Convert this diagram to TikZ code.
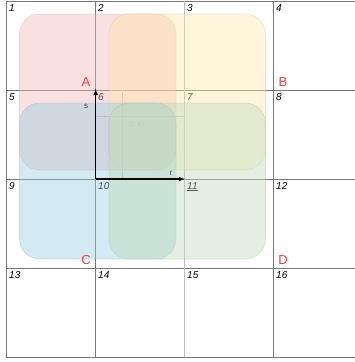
\documentclass[tikz,border=0pt]{standalone}
\usepackage{fontspec}
\setmainfont{Liberation Sans}
\usetikzlibrary{positioning, arrows}

\definecolor{gridgray}{RGB}{120,120,120}
\definecolor{faintgray}{RGB}{190,190,190}
\definecolor{labred}{RGB}{250,60,60}
\definecolor{pinkA}{RGB}{242,183,183}
\definecolor{yellowB}{RGB}{255,230,170}
\definecolor{blueC}{RGB}{150,205,225}
\definecolor{greenD}{RGB}{190,218,183}

\tikzset{
  cellnum/.style={anchor=north west, inner sep=0pt, font=\fontsize{10}{10}\selectfont\itshape},
  region/.style={rectangle, rounded corners=20pt, minimum width=156.5pt, minimum height=156pt,
                 fill=#1, fill opacity=0.42, draw=#1!80!black, draw opacity=0.3, line width=0.6pt},
  corner/.style={text=labred, font=\fontsize{13}{13}\selectfont, inner sep=0pt},
  axislbl/.style={text=black!75, font=\fontsize{8}{8}\selectfont, inner sep=0pt}
}

\begin{document}
\begin{tikzpicture}[x=1pt, y=-1pt]
  \useasboundingbox (0,0) rectangle (354,362);

  % grid of cells
  \foreach \i in {0,...,4} {
    \draw[gridgray, line width=0.7pt] (6,1+89*\i) -- (362.5,1+89*\i);
  }
  \foreach \j in {0,1,3} {
    \draw[gridgray, line width=0.7pt] (6+89*\j,1) -- (6+89*\j,357);
  }
  \draw[faintgray, line width=1.6pt] (184.5,1) -- (184.5,357);

  % cell numbers
  \foreach \r in {0,...,3} {
    \foreach \c in {0,...,3} {
      \pgfmathtruncatemacro{\k}{4*\r+\c+1}
      \node[cellnum] (n\k) at (6+89*\c+3, 1+89*\r+3) {\ifnum\k=11 \underline{\k}\else\k\fi};
    }
  }

  % point (r, s)
  \draw[faintgray, line width=0.6pt] (122.7,90) -- (122.7,179);
  \draw[faintgray, line width=0.6pt] (95.5,116.7) -- (184.5,116.7);
  \node[text=black!45, font=\fontsize{8}{8}\selectfont] (rs) at (136,124) {(r, s)};

  % overlapping regions
  \node[region=pinkA] (A) at (97.75,92) {};
  \node[region=yellowB] (B) at (187.25,92) {};
  \node[region=blueC] (C) at (97.75,181) {};
  \node[region=greenD] (D) at (187.25,181) {};

  \node[corner] (lA) at (86,82) {A};
  \node[corner] (lB) at (283,82) {B};
  \node[corner] (lC) at (86,260) {C};
  \node[corner] (lD) at (283,260) {D};

  % axes
  \coordinate (O) at (95.7,179);
  \coordinate (sEnd) at (95.7,89);
  \coordinate (rEnd) at (185,179);
  \draw[-latex, line width=1.1pt] (O) -- (sEnd);
  \draw[-latex, line width=1.1pt] (O) -- (rEnd);
  \node[axislbl] (s) at (86,106) {s};
  \node[axislbl] (r) at (171,173) {r};
\end{tikzpicture}
\end{document}
